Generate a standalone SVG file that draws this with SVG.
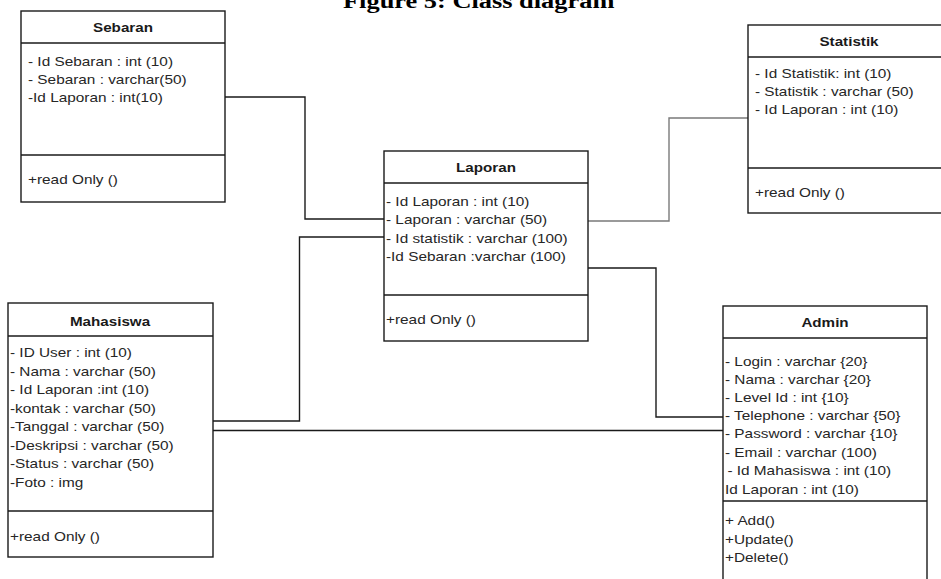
<svg xmlns="http://www.w3.org/2000/svg" width="941" height="579" viewBox="0 0 941 579">
  <style>
    .box { fill: #ffffff; stroke: #1a1a1a; stroke-width: 1.4; }
    .sep { stroke: #1a1a1a; stroke-width: 1.3; }
    .attr { font-family: "Liberation Sans", Arial, sans-serif; font-size: 12.8px; fill: #262626; }
    .name { font-family: "Liberation Sans", Arial, sans-serif; font-size: 13px; font-weight: bold; fill: #1a1a1a; text-anchor: middle; }
    .caption { font-family: "Liberation Serif", "Times New Roman", serif; font-size: 22px; font-weight: bold; fill: #000000; }
    .link { fill: none; stroke: #1a1a1a; stroke-width: 1.4; }
    .link-soft { fill: none; stroke: #7a7a7a; stroke-width: 1.4; }
  </style>

  <rect width="941" height="579" fill="#ffffff"/>

  <!-- caption, partly above the top edge -->
  <text class="caption" transform="translate(343 7.5) scale(1.2 1)">Figure 5: Class diagram</text>

  <!-- associations between classes -->
  <g id="connectors">
    <path class="link" d="M225 97 H305 V219 H384"/>
    <path class="link" d="M213 421 H299.5 V237 H384"/>
    <path class="link-soft" d="M588 221 H669 V118 H748"/>
    <path class="link" d="M588 268 H656 V417 H723"/>
    <path class="link" d="M213 430.5 H723"/>
  </g>

  <!-- Sebaran -->
  <g id="sebaran">
    <rect class="box" x="21" y="11" width="204" height="191"/>
    <line class="sep" x1="21" y1="43" x2="225" y2="43"/>
    <line class="sep" x1="21" y1="155" x2="225" y2="155"/>
    <text class="name" transform="translate(123 32) scale(1.17 1)">Sebaran</text>
    <g class="attr" transform="translate(28 0) scale(1.2 1)">
      <text y="66">- Id Sebaran : int (10)</text>
      <text y="84">- Sebaran : varchar(50)</text>
      <text y="102">-Id Laporan : int(10)</text>
      <text y="184">+read Only ()</text>
    </g>
  </g>

  <!-- Laporan -->
  <g id="laporan">
    <rect class="box" x="384" y="151" width="204" height="190"/>
    <line class="sep" x1="384" y1="183" x2="588" y2="183"/>
    <line class="sep" x1="384" y1="295" x2="588" y2="295"/>
    <text class="name" transform="translate(486 172) scale(1.17 1)">Laporan</text>
    <g class="attr" transform="translate(386 0) scale(1.2 1)">
      <text y="206">- Id Laporan : int (10)</text>
      <text y="224.5">- Laporan : varchar (50)</text>
      <text y="243">- Id statistik : varchar (100)</text>
      <text y="261.5">-Id Sebaran :varchar (100)</text>
      <text y="324">+read Only ()</text>
    </g>
  </g>

  <!-- Statistik -->
  <g id="statistik">
    <rect class="box" x="748" y="25" width="204" height="188"/>
    <line class="sep" x1="748" y1="57" x2="952" y2="57"/>
    <line class="sep" x1="748" y1="168" x2="952" y2="168"/>
    <text class="name" transform="translate(849 46) scale(1.17 1)">Statistik</text>
    <g class="attr" transform="translate(755 0) scale(1.2 1)">
      <text y="78">- Id Statistik: int (10)</text>
      <text y="96">- Statistik : varchar (50)</text>
      <text y="114">- Id Laporan : int (10)</text>
      <text y="197">+read Only ()</text>
    </g>
  </g>

  <!-- Mahasiswa -->
  <g id="mahasiswa">
    <rect class="box" x="8" y="303" width="205" height="254"/>
    <line class="sep" x1="8" y1="336" x2="213" y2="336"/>
    <line class="sep" x1="8" y1="511" x2="213" y2="511"/>
    <text class="name" transform="translate(110 326) scale(1.17 1)">Mahasiswa</text>
    <g class="attr" transform="translate(10 0) scale(1.2 1)">
      <text y="357.5">- ID User : int (10)</text>
      <text y="376">- Nama : varchar (50)</text>
      <text y="394.5">- Id Laporan :int (10)</text>
      <text y="413">-kontak : varchar (50)</text>
      <text y="431.5">-Tanggal : varchar (50)</text>
      <text y="450">-Deskripsi : varchar (50)</text>
      <text y="468.5">-Status : varchar (50)</text>
      <text y="487">-Foto : img</text>
      <text y="541">+read Only ()</text>
    </g>
  </g>

  <!-- Admin -->
  <g id="admin">
    <rect class="box" x="723" y="306" width="204" height="290"/>
    <line class="sep" x1="723" y1="338" x2="927" y2="338"/>
    <line class="sep" x1="723" y1="501" x2="927" y2="501"/>
    <text class="name" transform="translate(825 327) scale(1.17 1)">Admin</text>
    <g class="attr" transform="translate(725 0) scale(1.2 1)">
      <text y="366">- Login : varchar {20}</text>
      <text y="384">- Nama : varchar {20}</text>
      <text y="402">- Level Id : int {10}</text>
      <text y="420">- Telephone : varchar {50}</text>
      <text y="438.5">- Password : varchar {10}</text>
      <text y="457">- Email : varchar (100)</text>
      <text x="2" y="475">- Id Mahasiswa : int (10)</text>
      <text y="494">Id Laporan : int (10)</text>
      <text y="525">+ Add()</text>
      <text y="544">+Update()</text>
      <text y="562">+Delete()</text>
    </g>
  </g>
</svg>
